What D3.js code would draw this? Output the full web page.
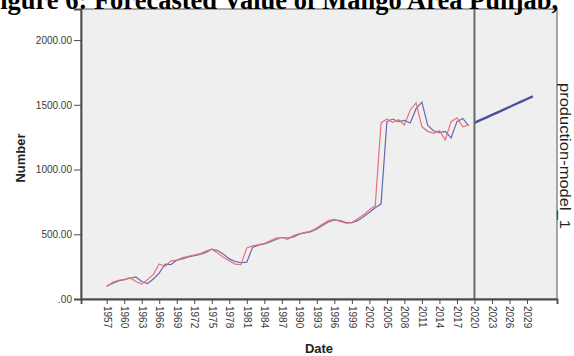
<!DOCTYPE html>
<html>
<head>
<meta charset="utf-8">
<script src="https://cdn.jsdelivr.net/npm/d3@7/dist/d3.min.js"></script>
<style>
  html, body { margin: 0; padding: 0; background: #ffffff; }
  svg { display: block; }
</style>
</head>
<body>
<script>
// Mango area, Punjab: observed series, model fit and forecast
const titleText = "Figure 6: Forecasted Value of Mango Area Punjab,";
const xTitle = "Date";
const yTitle = "Number";
const seriesLabel = "production-model_1";

const years = d3.range(1957, 2020);
const observed = [
   95, 130, 145, 150, 165, 135, 115, 150, 190, 270,
  250, 295, 300, 320, 330, 340, 350, 370, 385, 355,
  320, 295, 270, 265, 395, 410, 420, 430, 450, 470,
  475, 460, 490, 505, 515, 525, 550, 580, 605, 615,
  600, 585, 590, 620, 650, 690, 720, 1360, 1390, 1365,
 1385, 1345, 1460, 1515, 1330, 1295, 1280, 1300, 1230, 1370,
 1400, 1330, 1345
];
const fitted = [
  100, 120, 140, 150, 160, 170, 135, 120, 155, 200,
  270, 265, 300, 310, 325, 335, 345, 360, 385, 375,
  345, 310, 290, 280, 285, 400, 415, 425, 440, 460,
  475, 470, 480, 500, 510, 520, 540, 570, 595, 610,
  605, 590, 590, 605, 635, 670, 705, 735, 1370, 1390,
 1370, 1380, 1360, 1470, 1520, 1340, 1300, 1285, 1295, 1245,
 1370, 1395, 1340
];
const forecastYears = d3.range(2020, 2031);
const forecast = [1360, 1381, 1401, 1422, 1442, 1463, 1483, 1504, 1524, 1545, 1565];

const xTicks = d3.range(1957, 2030, 3);
const yTicks = [0, 500, 1000, 1500, 2000];
const splitYear = 2020;

const W = 574, H = 356;
const plot = { left: 81, right: 557, top: 9, bottom: 299 };

const svg = d3.select("body").append("svg")
  .attr("width", W).attr("height", H);

const x = d3.scaleLinear().domain([1952.6, 2034.14]).range([plot.left, plot.right]);
const y = d3.scaleLinear().domain([0, 2240]).range([plot.bottom, plot.top]);

// plot background
svg.append("rect")
  .attr("x", plot.left).attr("y", plot.top)
  .attr("width", plot.right - plot.left).attr("height", plot.bottom - plot.top)
  .attr("fill", "#efefef")
  .attr("stroke", "#8a8a8a").attr("stroke-width", 1.5);

// series
const line = d3.line().x(d => x(d[0])).y(d => y(d[1]));

svg.append("path")
  .datum(years.map((yr, i) => [yr, fitted[i]]))
  .attr("d", line)
  .attr("fill", "none").attr("stroke", "#6868b0").attr("stroke-width", 1.2);

svg.append("path")
  .datum(years.map((yr, i) => [yr, observed[i]]))
  .attr("d", line)
  .attr("fill", "none").attr("stroke", "#e8707c").attr("stroke-width", 1.2);

svg.append("path")
  .datum(forecastYears.map((yr, i) => [yr, forecast[i]]))
  .attr("d", line)
  .attr("fill", "none").attr("stroke", "#4a4f9e").attr("stroke-width", 2.4);

// forecast origin line
svg.append("line")
  .attr("x1", x(splitYear)).attr("x2", x(splitYear))
  .attr("y1", plot.top).attr("y2", plot.bottom)
  .attr("stroke", "#6a6a6a").attr("stroke-width", 2);

// axes
const yAxis = svg.append("g")
  .attr("transform", `translate(${plot.left},0)`)
  .call(d3.axisLeft(y).tickValues(yTicks).tickSize(7).tickPadding(2)
    .tickFormat(d => d === 0 ? ".00" : d3.format(".2f")(d)));
yAxis.select(".domain").attr("stroke", "#4a4a4a").attr("stroke-width", 1.8);
yAxis.selectAll(".tick line").attr("stroke", "#4a4a4a");
yAxis.selectAll("text")
  .attr("font-family", "Liberation Sans, Arial, sans-serif")
  .attr("font-size", 10).attr("fill", "#3a3a3a");

const xAxis = svg.append("g")
  .attr("transform", `translate(0,${plot.bottom})`)
  .call(d3.axisBottom(x).tickValues(xTicks).tickSize(5).tickFormat(d3.format("d")));
xAxis.select(".domain").attr("stroke", "#4a4a4a").attr("stroke-width", 1.8);
xAxis.selectAll(".tick line").attr("stroke", "#4a4a4a");
xAxis.selectAll("text")
  .attr("font-family", "Liberation Sans, Arial, sans-serif")
  .attr("font-size", 10).attr("fill", "#3a3a3a")
  .attr("text-anchor", "start")
  .attr("transform", "rotate(90)")
  .attr("x", 7).attr("y", 0).attr("dy", "0.35em");

// titles
svg.append("text")
  .attr("x", -16).attr("y", 9)
  .attr("font-family", "Liberation Serif, Times New Roman, serif")
  .attr("font-weight", "bold").attr("font-size", 26.5)
  .attr("fill", "#000")
  .text(titleText);

svg.append("text")
  .attr("transform", "translate(25,158) rotate(-90)")
  .attr("text-anchor", "middle")
  .attr("font-family", "Liberation Sans, Arial, sans-serif")
  .attr("font-weight", "bold").attr("font-size", 13)
  .attr("fill", "#222")
  .text(yTitle);

svg.append("text")
  .attr("x", 319).attr("y", 353)
  .attr("text-anchor", "middle")
  .attr("font-family", "Liberation Sans, Arial, sans-serif")
  .attr("font-weight", "bold").attr("font-size", 13)
  .attr("fill", "#222")
  .text(xTitle);

svg.append("text")
  .attr("transform", "translate(560,83) rotate(90)")
  .attr("text-anchor", "start")
  .attr("font-family", "Liberation Sans, Arial, sans-serif")
  .attr("font-size", 15)
  .attr("textLength", 146).attr("lengthAdjust", "spacingAndGlyphs")
  .attr("fill", "#222")
  .text(seriesLabel);
</script>
</body>
</html>
